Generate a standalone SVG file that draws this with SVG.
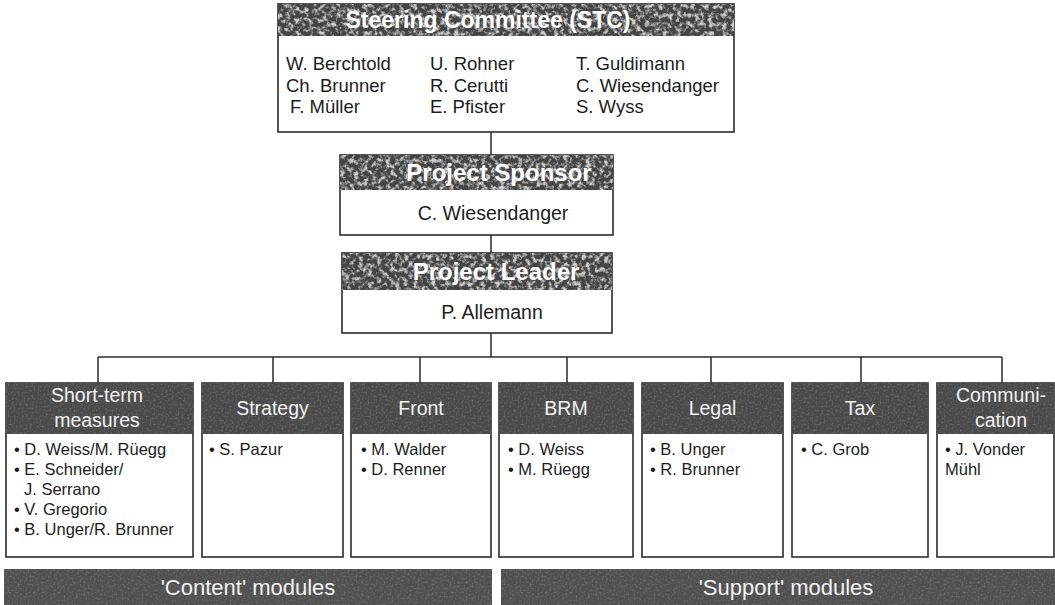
<svg xmlns="http://www.w3.org/2000/svg" width="1055" height="605" viewBox="0 0 1055 605">
  <defs>
    <!-- coarse halftone grain for the management headers -->
    <filter id="speckle" x="0" y="0" width="100%" height="100%">
      <feTurbulence type="fractalNoise" baseFrequency="0.22" numOctaves="3" seed="7" result="noise"/>
      <feColorMatrix in="noise" type="matrix" values="0 0 0 0 0.8  0 0 0 0 0.8  0 0 0 0 0.8  3.4 0 0 0 -1.5" result="spots"/>
      <feComposite in="spots" in2="SourceGraphic" operator="in"/>
    </filter>
    <!-- faint grain for module headers and group bars -->
    <filter id="grain" x="0" y="0" width="100%" height="100%">
      <feTurbulence type="fractalNoise" baseFrequency="0.5" numOctaves="1" seed="2" result="noise"/>
      <feColorMatrix in="noise" type="matrix" values="0 0 0 0 0.7  0 0 0 0 0.7  0 0 0 0 0.7  1.6 0 0 0 -0.75" result="spots"/>
      <feComposite in="spots" in2="SourceGraphic" operator="in"/>
    </filter>
  </defs>
  <style>
    .box { fill: #ffffff; stroke: #2b2b2b; stroke-width: 1.6; }
    .hdr { fill: #444444; }
    .mhdr { fill: #4a4a4a; }
    .tex { fill: #000; filter: url(#speckle); opacity: 0.85; }
    .tex2 { fill: #000; filter: url(#grain); opacity: 0.35; }
    .htxt { font-family: "Liberation Sans", Arial, sans-serif; font-weight: bold; font-size: 24px; fill: #ffffff; text-anchor: middle; }
    .stc { font-size: 23px; }
    .mtxt { font-family: "Liberation Sans", Arial, sans-serif; font-size: 19.5px; fill: #f2f2f2; text-anchor: middle; }
    .name { font-family: "Liberation Sans", Arial, sans-serif; font-size: 18.5px; fill: #1c1c1c; }
    .name2 { font-family: "Liberation Sans", Arial, sans-serif; font-size: 19.5px; fill: #1c1c1c; text-anchor: middle; }
    .item { font-family: "Liberation Sans", Arial, sans-serif; font-size: 16.5px; fill: #1c1c1c; }
    .bar { fill: #505050; }
    .btxt { font-family: "Liberation Sans", Arial, sans-serif; font-size: 22px; fill: #f2f2f2; text-anchor: middle; }
    .wire { fill: none; stroke: #2b2b2b; stroke-width: 1.5; }
  </style>

  <rect width="1055" height="605" fill="#ffffff"/>

  <!-- connectors -->
  <g id="connectors" class="wire">
    <line x1="491" y1="132" x2="491" y2="155"/>
    <line x1="491" y1="235" x2="491" y2="253"/>
    <line x1="491" y1="333" x2="491" y2="357"/>
    <line x1="98" y1="357" x2="1002" y2="357"/>
    <line x1="98" y1="357" x2="98" y2="383"/>
    <line x1="273" y1="357" x2="273" y2="383"/>
    <line x1="420" y1="357" x2="420" y2="383"/>
    <line x1="567" y1="357" x2="567" y2="383"/>
    <line x1="711" y1="357" x2="711" y2="383"/>
    <line x1="861" y1="357" x2="861" y2="383"/>
    <line x1="1002" y1="357" x2="1002" y2="383"/>
  </g>

  <!-- steering committee -->
  <g id="steering-committee">
    <rect class="box" x="278" y="4" width="456" height="128"/>
    <rect class="hdr" x="278" y="4" width="456" height="32"/>
    <rect class="tex" x="278" y="4" width="456" height="32"/>
    <text class="htxt stc" x="488" y="28">Steering Committee (STC)</text>
    <text class="name" x="286" y="70">W. Berchtold</text>
    <text class="name" x="286" y="92">Ch. Brunner</text>
    <text class="name" x="290" y="113">F. Müller</text>
    <text class="name" x="430" y="70">U. Rohner</text>
    <text class="name" x="430" y="92">R. Cerutti</text>
    <text class="name" x="430" y="113">E. Pfister</text>
    <text class="name" x="576" y="70">T. Guldimann</text>
    <text class="name" x="576" y="92">C. Wiesendanger</text>
    <text class="name" x="576" y="113">S. Wyss</text>
  </g>

  <!-- project sponsor -->
  <g id="project-sponsor">
    <rect class="box" x="340" y="155" width="273" height="80"/>
    <rect class="hdr" x="340" y="155" width="273" height="35"/>
    <rect class="tex" x="340" y="155" width="273" height="35"/>
    <text class="htxt" x="499" y="181">Project Sponsor</text>
    <text class="name2" x="493" y="220">C. Wiesendanger</text>
  </g>

  <!-- project leader -->
  <g id="project-leader">
    <rect class="box" x="342" y="253" width="270" height="80"/>
    <rect class="hdr" x="342" y="253" width="270" height="37"/>
    <rect class="tex" x="342" y="253" width="270" height="37"/>
    <text class="htxt" x="496" y="280">Project Leader</text>
    <text class="name2" x="492" y="319">P. Allemann</text>
  </g>

  <!-- modules -->
  <g id="short-term-measures">
    <rect class="box" x="6" y="383" width="187" height="174"/>
    <rect class="mhdr" x="6" y="383" width="187" height="51"/>
    <rect class="tex2" x="6" y="383" width="187" height="51"/>
    <text class="mtxt" x="97" y="402">Short-term</text>
    <text class="mtxt" x="97" y="427">measures</text>
    <text class="item" x="14" y="455">• D. Weiss/M. Rüegg</text>
    <text class="item" x="14" y="475">• E. Schneider/</text>
    <text class="item" x="24" y="495">J. Serrano</text>
    <text class="item" x="14" y="515">• V. Gregorio</text>
    <text class="item" x="14" y="535">• B. Unger/R. Brunner</text>
  </g>

  <g id="strategy">
    <rect class="box" x="202" y="383" width="141" height="174"/>
    <rect class="mhdr" x="202" y="383" width="141" height="51"/>
    <rect class="tex2" x="202" y="383" width="141" height="51"/>
    <text class="mtxt" x="272.5" y="415">Strategy</text>
    <text class="item" x="209" y="455">• S. Pazur</text>
  </g>

  <g id="front">
    <rect class="box" x="351" y="383" width="140" height="174"/>
    <rect class="mhdr" x="351" y="383" width="140" height="51"/>
    <rect class="tex2" x="351" y="383" width="140" height="51"/>
    <text class="mtxt" x="421" y="415">Front</text>
    <text class="item" x="361" y="455">• M. Walder</text>
    <text class="item" x="361" y="475">• D. Renner</text>
  </g>

  <g id="brm">
    <rect class="box" x="499" y="383" width="134" height="174"/>
    <rect class="mhdr" x="499" y="383" width="134" height="51"/>
    <rect class="tex2" x="499" y="383" width="134" height="51"/>
    <text class="mtxt" x="566" y="415">BRM</text>
    <text class="item" x="508" y="455">• D. Weiss</text>
    <text class="item" x="508" y="475">• M. Rüegg</text>
  </g>

  <g id="legal">
    <rect class="box" x="642" y="383" width="141" height="174"/>
    <rect class="mhdr" x="642" y="383" width="141" height="51"/>
    <rect class="tex2" x="642" y="383" width="141" height="51"/>
    <text class="mtxt" x="712.5" y="415">Legal</text>
    <text class="item" x="650" y="455">• B. Unger</text>
    <text class="item" x="650" y="475">• R. Brunner</text>
  </g>

  <g id="tax">
    <rect class="box" x="792" y="383" width="136" height="174"/>
    <rect class="mhdr" x="792" y="383" width="136" height="51"/>
    <rect class="tex2" x="792" y="383" width="136" height="51"/>
    <text class="mtxt" x="860" y="415">Tax</text>
    <text class="item" x="801" y="455">• C. Grob</text>
  </g>

  <g id="communication">
    <rect class="box" x="937" y="383" width="117" height="174"/>
    <rect class="mhdr" x="937" y="383" width="117" height="51"/>
    <rect class="tex2" x="937" y="383" width="117" height="51"/>
    <text class="mtxt" x="1001" y="402">Communi-</text>
    <text class="mtxt" x="1001" y="427">cation</text>
    <text class="item" x="945" y="455">• J. Vonder</text>
    <text class="item" x="945" y="475">Mühl</text>
  </g>

  <!-- module groupings -->
  <g id="content-modules">
    <rect class="bar" x="4" y="569" width="488" height="36"/>
    <rect class="tex2" x="4" y="569" width="488" height="36"/>
    <text class="btxt" x="248" y="595">'Content' modules</text>
  </g>
  <g id="support-modules">
    <rect class="bar" x="501" y="569" width="554" height="36"/>
    <rect class="tex2" x="501" y="569" width="554" height="36"/>
    <text class="btxt" x="786" y="595">'Support' modules</text>
  </g>
</svg>
